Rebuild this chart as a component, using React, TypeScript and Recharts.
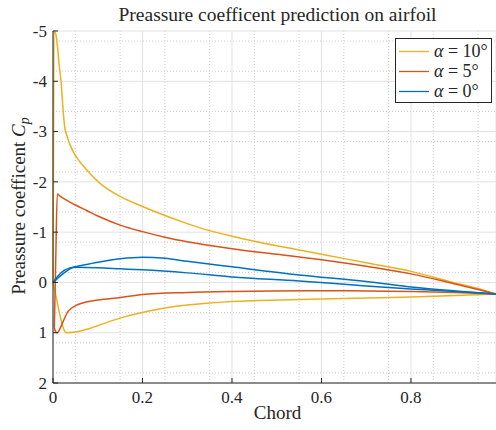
import { LineChart, Line, XAxis, YAxis, CartesianGrid, Label } from 'recharts';

// Pressure coefficient along the chord, upper and lower surface per angle of attack
const a10UpperX = [0, 0.001, 0.002, 0.005, 0.008, 0.011, 0.014, 0.018, 0.022, 0.026, 0.03, 0.045, 0.06, 0.075, 0.105, 0.15, 0.2, 0.25, 0.3, 0.35, 0.4, 0.45, 0.5, 0.55, 0.6, 0.7, 0.8, 0.885, 0.95, 0.99];
const a10UpperCp = [0, -2.5, -5.0, -4.97, -4.85, -4.6, -4.3, -4.0, -3.5, -3.1, -2.95, -2.6, -2.4, -2.24, -1.97, -1.71, -1.51, -1.33, -1.17, -1.03, -0.92, -0.82, -0.73, -0.645, -0.56, -0.39, -0.22, -0.02, 0.12, 0.23];
const a10LowerX = [0, 0.008, 0.016, 0.022, 0.03, 0.045, 0.06, 0.08, 0.1, 0.125, 0.15, 0.2, 0.25, 0.3, 0.4, 0.55, 0.7, 0.8, 0.9, 0.99];
const a10LowerCp = [0, 0.33, 0.67, 0.88, 1.0, 0.99, 0.97, 0.92, 0.86, 0.78, 0.71, 0.6, 0.51, 0.45, 0.38, 0.34, 0.31, 0.29, 0.26, 0.23];

const a5UpperX = [0.003, 0.006, 0.0096, 0.015, 0.027, 0.05, 0.075, 0.1, 0.15, 0.2, 0.25, 0.3, 0.4, 0.5, 0.6, 0.7, 0.8, 0.885, 0.95, 0.99];
const a5UpperCp = [0.9, -0.4, -1.76, -1.72, -1.65, -1.54, -1.43, -1.32, -1.14, -1.01, -0.9, -0.81, -0.67, -0.56, -0.45, -0.32, -0.17, 0.0, 0.14, 0.23];
const a5LowerX = [0.003, 0.006, 0.01, 0.015, 0.023, 0.034, 0.056, 0.1, 0.15, 0.2, 0.3, 0.4, 0.57, 0.7, 0.8, 0.9, 0.99];
const a5LowerCp = [0.9, 0.98, 1.0, 0.93, 0.77, 0.57, 0.44, 0.35, 0.3, 0.24, 0.2, 0.18, 0.165, 0.17, 0.18, 0.2, 0.23];

const a0UpperX = [0, 0.01, 0.025, 0.038, 0.06, 0.1, 0.15, 0.2, 0.25, 0.3, 0.4, 0.55, 0.7, 0.8, 0.9, 0.99];
const a0UpperCp = [0, -0.12, -0.24, -0.29, -0.33, -0.4, -0.47, -0.5, -0.48, -0.42, -0.31, -0.15, -0.02, 0.09, 0.17, 0.23];
const a0LowerX = [0, 0.01, 0.025, 0.04, 0.05, 0.1, 0.15, 0.2, 0.3, 0.4, 0.55, 0.7, 0.8, 0.9, 0.99];
const a0LowerCp = [0, -0.08, -0.19, -0.28, -0.3, -0.29, -0.27, -0.25, -0.19, -0.11, -0.03, 0.07, 0.13, 0.18, 0.23];

const xTicks = [0, 0.2, 0.4, 0.6, 0.8];
const yTicks = [-5, -4, -3, -2, -1, 0, 1, 2];
const xMinor = [0.05, 0.1, 0.15, 0.25, 0.3, 0.35, 0.45, 0.5, 0.55, 0.65, 0.7, 0.75, 0.85, 0.9, 0.95];
const yMinor = [
  -4.8, -4.6, -4.4, -4.2, -3.8, -3.6, -3.4, -3.2, -2.8, -2.6, -2.4, -2.2, -1.8, -1.6,
  -1.4, -1.2, -0.8, -0.6, -0.4, -0.2, 0.2, 0.4, 0.6, 0.8, 1.2, 1.4, 1.6, 1.8,
];

const angles = ['10°', '5°', '0°'];
const COLORS = ['#EDB120', '#D95319', '#0072BD'];

const FONT = '"Liberation Serif", "Times New Roman", serif';
const INK = '#262626';

const toRows = (xs: number[], cps: number[]) => xs.map((x, i) => ({ x, cp: cps[i] }));

const series = [
  { key: 'a10u', color: COLORS[0], rows: toRows(a10UpperX, a10UpperCp) },
  { key: 'a10l', color: COLORS[0], rows: toRows(a10LowerX, a10LowerCp) },
  { key: 'a5u', color: COLORS[1], rows: toRows(a5UpperX, a5UpperCp) },
  { key: 'a5l', color: COLORS[1], rows: toRows(a5LowerX, a5LowerCp) },
  { key: 'a0u', color: COLORS[2], rows: toRows(a0UpperX, a0UpperCp) },
  { key: 'a0l', color: COLORS[2], rows: toRows(a0LowerX, a0LowerCp) },
];

// custom ticks so the serif font actually sticks
const XTick = ({ x, y, payload }: any) => (
  <text x={x} y={y} dy="0.71em" textAnchor="middle" fontSize={17} fill={INK} fontFamily={FONT}>
    {String(payload.value)}
  </text>
);

const YTick = ({ x, y, payload }: any) => (
  <text x={x} y={y} dy="0.34em" textAnchor="end" fontSize={17} fill={INK} fontFamily={FONT}>
    {String(payload.value)}
  </text>
);

// legend drawn as an overlay so it doesn't shrink the plot area
function LegendBox() {
  return (
    <div
      style={{
        position: 'absolute',
        left: 395,
        top: 38,
        width: 97,
        height: 65,
        border: `1px solid ${INK}`,
        background: '#fff',
        fontFamily: FONT,
        fontSize: 18,
        color: INK,
        paddingTop: 2,
        boxSizing: 'border-box',
      }}
    >
      {angles.map((a, i) => (
        <div key={a} style={{ display: 'flex', alignItems: 'center', height: 20 }}>
          <svg width={38} height={20} style={{ flex: 'none' }}>
            <line x1={3} x2={33} y1={10.5} y2={10.5} stroke={COLORS[i]} strokeWidth={1.3} />
          </svg>
          <span style={{ whiteSpace: 'nowrap' }}>
            <i>α</i> = {a}
          </span>
        </div>
      ))}
    </div>
  );
}

export default function App() {
  return (
    <div style={{ position: 'absolute', left: 0, top: 0, width: 496, height: 430, overflow: 'hidden', background: '#fff' }}>
      <div
        style={{
          position: 'absolute',
          left: 0,
          top: 4,
          width: 555,
          textAlign: 'center',
          fontFamily: FONT,
          fontSize: 19.5,
          lineHeight: '22px',
          color: INK,
        }}
      >
        Preassure coefficent prediction on airfoil
      </div>
      <LineChart
        width={496}
        height={430}
        margin={{ top: 31, right: 0, bottom: 0, left: 0 }}
        style={{ fontFamily: FONT, position: 'absolute', left: 0, top: 0 }}
      >
        <CartesianGrid stroke="#cccccc" strokeDasharray="1 2" horizontalValues={yMinor} verticalValues={xMinor} />
        <CartesianGrid stroke="#e2e2e2" strokeWidth={1} />
        <XAxis
          type="number"
          dataKey="x"
          domain={[0, 0.99]}
          ticks={xTicks}
          height={47}
          stroke={INK}
          tickSize={-5}
          tickMargin={13}
          tick={<XTick />}
        >
          <Label
            content={() => (
              <text x={277.5} y={419} textAnchor="middle" fontSize={19} fill={INK} fontFamily={FONT}>
                Chord
              </text>
            )}
          />
        </XAxis>
        <YAxis
          type="number"
          domain={[-5, 2]}
          reversed
          ticks={yTicks}
          width={53}
          stroke={INK}
          tickSize={-5}
          tickMargin={11}
          tick={<YTick />}
        >
          <Label
            content={() => (
              <text transform="translate(25, 206) rotate(-90)" textAnchor="middle" fontSize={19} fill={INK} fontFamily={FONT}>
                Preassure coefficent <tspan fontStyle="italic">C</tspan>
                <tspan fontStyle="italic" fontSize={14} dy={4}>p</tspan>
              </text>
            )}
          />
        </YAxis>
        {series.map((s) => (
          <Line
            key={s.key}
            data={s.rows}
            dataKey="cp"
            type="monotone"
            stroke={s.color}
            strokeWidth={1.5}
            dot={false}
            activeDot={false}
            isAnimationActive={false}
            legendType="none"
          />
        ))}
      </LineChart>
      <LegendBox />
    </div>
  );
}
